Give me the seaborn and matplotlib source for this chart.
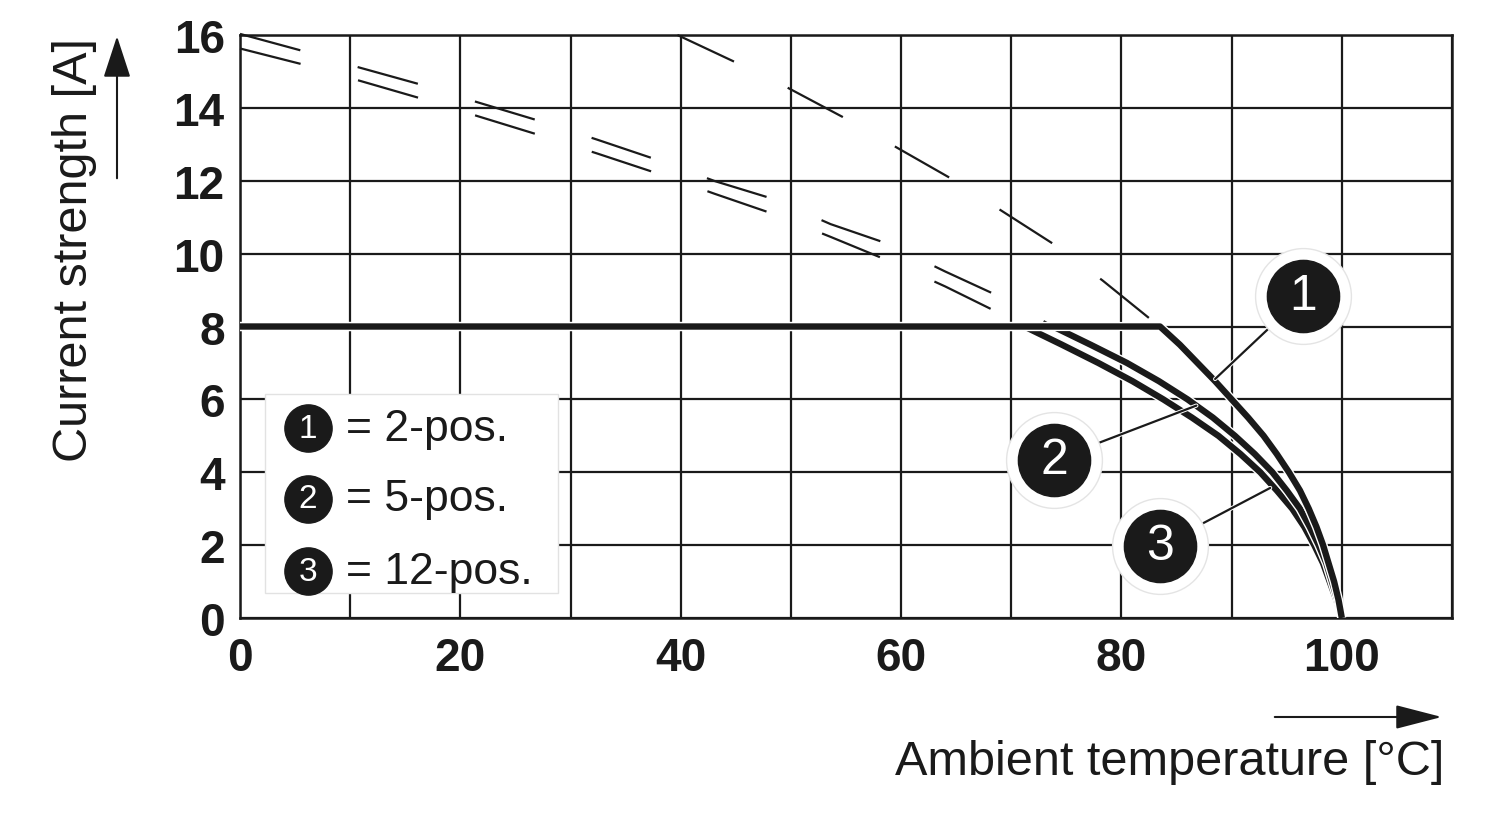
import numpy as np
import matplotlib
matplotlib.use("Agg")
import matplotlib.pyplot as plt
import matplotlib.patheffects as pe
from matplotlib.patches import Rectangle, FancyArrowPatch
import seaborn as sns

# derating curves: current steps [A] and ambient temperature [°C] for each variant
current_pts = [8, 8, 7.5, 7, 6.5, 6, 5.5, 5, 4.5, 4, 3.5, 3, 2.5, 2, 1.5, 1, 0.5, 0]
temp_2pos = [0, 83.5, 85.3, 86.9, 88.5, 90.0, 91.5, 92.9, 94.1, 95.2, 96.2, 97.0, 97.7, 98.3, 98.8, 99.3, 99.7, 100]
temp_5pos = [0, 73.8, 77.2, 80.5, 83.4, 86.0, 88.3, 90.3, 92.1, 93.7, 95.0, 96.2, 97.1, 97.9, 98.6, 99.1, 99.6, 100]
temp_12pos = [0, 71.2, 74.6, 77.9, 81.0, 83.8, 86.4, 88.8, 90.8, 92.6, 94.1, 95.5, 96.6, 97.5, 98.3, 98.9, 99.5, 100]

# dashed continuation above 8 A
ext_2pos_t = [39.7, 44.7, 49.6, 54.7, 59.5, 64.6, 69.1, 73.9, 78.3, 82.8, 83.5]
ext_2pos_i = [16.0, 15.29, 14.57, 13.75, 12.93, 12.05, 11.18, 10.25, 9.26, 8.16, 8.0]
ext_5pos_t = [0, 5.6, 10.8, 16.4, 21.6, 27.2, 32.4, 37.9, 43.1, 48.4, 53.6, 58.9, 64.0, 69.1, 73.8]
ext_5pos_i = [16.03, 15.57, 15.11, 14.64, 14.15, 13.64, 13.13, 12.57, 11.99, 11.50, 10.81, 10.26, 9.51, 8.80, 8.0]
ext_12pos_t = [0, 5.6, 10.8, 16.4, 21.6, 27.2, 32.4, 37.9, 43.1, 48.4, 53.6, 58.9, 64.0, 69.1, 71.2]
ext_12pos_i = [15.63, 15.20, 14.75, 14.26, 13.77, 13.25, 12.75, 12.20, 11.64, 11.09, 10.46, 9.80, 9.10, 8.34, 8.0]

x_ticks = list(range(0, 111, 10))
x_tick_labels = ["0", "", "20", "", "40", "", "60", "", "80", "", "100", ""]
y_ticks = list(range(0, 17, 2))

callout_nums = ["1", "2", "3"]
legend_texts = ["= 2-pos.", "= 5-pos.", "= 12-pos."]

sns.set_theme(style="white")
plt.rcParams["font.family"] = ["Liberation Sans", "DejaVu Sans"]
plt.rcParams["lines.scale_dashes"] = False

fig = plt.figure(figsize=(15, 8.2), dpi=100)
ax = fig.add_axes([0.16, 0.2451, 0.808, 0.711])
ink = "#1a1a1a"

ax.set_xlim(0, 110)
ax.set_ylim(0, 16)
ax.set_xticks(x_ticks)
ax.set_xticklabels(x_tick_labels)
ax.set_yticks(y_ticks)
ax.tick_params(axis="both", length=0, labelsize=33, colors=ink)
ax.tick_params(axis="x", pad=13)
ax.tick_params(axis="y", pad=11)
for lab in ax.get_xticklabels() + ax.get_yticklabels():
    lab.set_fontweight("bold")
ax.grid(True, color=ink, lw=1.6)
ax.set_axisbelow(True)
for s in ax.spines.values():
    s.set_color(ink)
    s.set_linewidth(1.8)

# dashed extensions
for tt, ii in [(ext_2pos_t, ext_2pos_i), (ext_5pos_t, ext_5pos_i), (ext_12pos_t, ext_12pos_i)]:
    sns.lineplot(x=tt, y=ii, ax=ax, color=ink, lw=1.6, sort=False, estimator=None)
    ax.lines[-1].set_dashes((45, 43))
    ax.lines[-1].set_clip_on(False)

# solid derating curves
halo = [pe.Stroke(linewidth=6.6, foreground="white"), pe.Normal()]
for tt in [temp_12pos, temp_5pos, temp_2pos]:
    sns.lineplot(x=tt, y=current_pts, ax=ax, color=ink, lw=4.6, sort=False,
                 estimator=None, zorder=3)
    ax.lines[-1].set_path_effects(halo)
    ax.lines[-1].set_solid_capstyle("butt")

# legend box
ax.add_patch(Rectangle((2.27, 0.69), 26.6, 5.46, facecolor="white",
                       edgecolor="#e2e2e2", lw=1, zorder=4))
for k, (num, txt) in enumerate(zip(callout_nums, legend_texts)):
    yy = [5.21, 3.27, 1.29][k]
    ax.plot(6.17, yy, "o", ms=34, color=ink, zorder=5)
    ax.text(6.17, yy, num, color="white", fontsize=24, ha="center", va="center", zorder=6)
    ax.text(9.6, yy, txt, color=ink, fontsize=32, ha="left", va="center", zorder=6)

# callouts with leader lines
callout_xy = [(96.5, 8.84), (73.9, 4.34), (83.5, 1.98)]
leader_ends = [(88.5, 6.56), (86.8, 5.83), (93.5, 3.57)]
for num, (cx, cy), (lx, ly) in zip(callout_nums, callout_xy, leader_ends):
    ax.plot([cx, lx], [cy, ly], color=ink, lw=1.6, zorder=6,
            path_effects=[pe.Stroke(linewidth=3, foreground="white"), pe.Normal()])
    ax.plot(cx, cy, "o", ms=69, mfc="white", mec="#e4e4e4", mew=1, zorder=7, clip_on=False)
    ax.plot(cx, cy, "o", ms=52, color=ink, zorder=8, clip_on=False)
    ax.text(cx, cy, num, color="white", fontsize=36, ha="center", va="center", zorder=9)

# axis labels with arrows
fig.text(0.05, 0.695, "Current strength [A]", rotation=90, fontsize=35,
         ha="center", va="center", color=ink)
fig.text(0.963, 0.0549, "Ambient temperature [°C]", fontsize=35,
         ha="right", va="baseline", color=ink)
fig.add_artist(FancyArrowPatch((0.078, 0.778), (0.078, 0.958), transform=fig.transFigure,
                               arrowstyle="-|>,head_length=2.6,head_width=0.85",
                               mutation_scale=10, color=ink, lw=1.5))
fig.add_artist(FancyArrowPatch((0.848, 0.1244), (0.963, 0.1244), transform=fig.transFigure,
                               arrowstyle="-|>,head_length=2.9,head_width=0.75",
                               mutation_scale=10, color=ink, lw=1.5))

fig.savefig("out.png", dpi=100)
